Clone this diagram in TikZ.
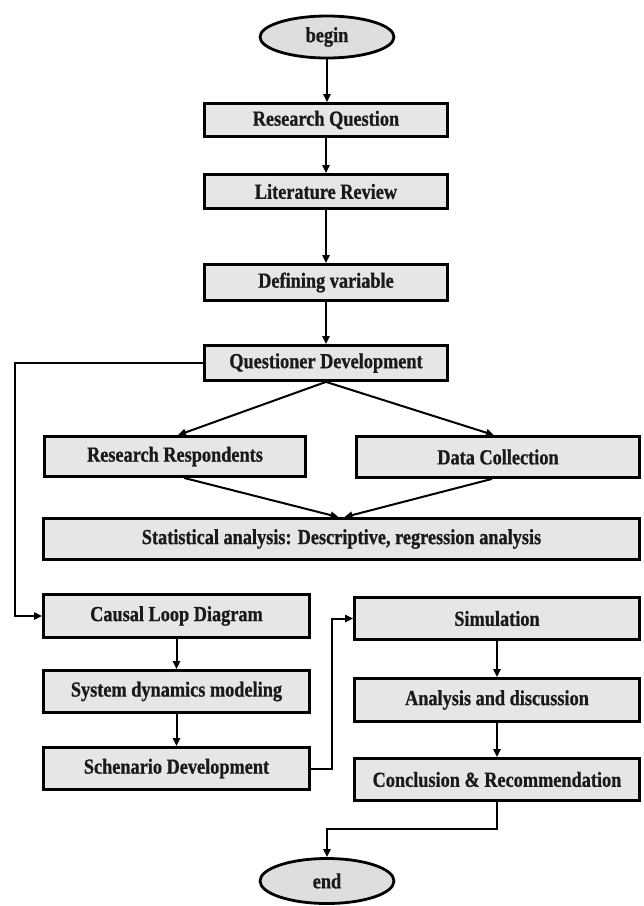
\documentclass[tikz,border=0pt]{standalone}
\usepackage{fontspec}
\setmainfont{Liberation Serif}[FakeStretch=0.85, BoldFeatures={FakeBold=0.8}]
\usetikzlibrary{arrows.meta,shapes.geometric,calc}
\definecolor{boxgray}{HTML}{E6E6E6}
\definecolor{termgray}{HTML}{DEDEDE}
\definecolor{inkc}{HTML}{1A1A1A}
\begin{document}
\begin{tikzpicture}[x=1pt,y=-1pt,
  box/.style={draw=black, line width=2.8pt, fill=boxgray, text=inkc, font=\bfseries\fontsize{21.5}{25}\selectfont, inner sep=0pt, anchor=center},
  term/.style={ellipse, draw=black, line width=2.8pt, fill=termgray, text=inkc, font=\bfseries\fontsize{21.5}{25}\selectfont, inner sep=0pt, anchor=center},
  conn/.style={line width=2pt, -{Triangle[length=8pt,width=7pt]}}]
\useasboundingbox[fill=white] (0,0) rectangle (644,906);

% top column
\node[term, minimum width=134pt, minimum height=42pt] (beg) at (327,37) {begin};
\node[box, minimum width=243pt, minimum height=33pt] (rq) at (326,120) {Research Question};
\node[box, minimum width=243pt, minimum height=34pt] (lr) at (326,191.5) {Literature Review};
\node[box, minimum width=243pt, minimum height=36pt] (dv) at (326,282.5) {Defining variable};
\node[box, minimum width=243pt, minimum height=35pt] (qd) at (326,363) {Questioner Development};

% middle
\node[box, minimum width=261pt, minimum height=40pt] (rr) at (175,456.5) {Research Respondents};
\node[box, minimum width=283pt, minimum height=41pt] (dc) at (498,457) {Data Collection};
\node[box, minimum width=596pt, minimum height=41pt] (st) at (341.5,539) {Statistical analysis: Descriptive, regression analysis};

% left column
\node[box, minimum width=266pt, minimum height=43pt] (cld) at (176.5,616) {Causal Loop Diagram};
\node[box, minimum width=266pt, minimum height=42pt] (sdm) at (176.5,691.5) {System dynamics modeling};
\node[box, minimum width=266pt, minimum height=42pt] (sd) at (176.5,768.5) {Schenario Development};

% right column
\node[box, minimum width=285pt, minimum height=42pt] (sim) at (497,618.5) {Simulation};
\node[box, minimum width=285pt, minimum height=43pt] (ad) at (497,700) {Analysis and discussion};
\node[box, minimum width=285pt, minimum height=42pt] (cr) at (497,779.5) {Conclusion \& Recommendation};

\node[term, minimum width=134pt, minimum height=45pt] (endn) at (327,881) {end};

% helper coordinates
\coordinate (lx) at (15,363);
\coordinate (sx) at (332,768.5);
\coordinate (ex) at (497,829);

% connectors
\draw[conn] (beg.south) -- (beg.south |- rq.north);
\draw[conn] (rq) -- (lr);
\draw[conn] (lr) -- (dv);
\draw[conn] (dv) -- (qd);
\draw[conn] (qd.south) -- ($(rr.north)+(3,0)$);
\draw[conn] (qd.south) -- ($(dc.north)+(-4,0)$);
\draw[conn] ($(rr.south)+(9,0)$) -- ($(st.north)+(-3,0)$);
\draw[conn] ($(dc.south)+(-6,0)$) -- ($(st.north)+(3,0)$);
\draw[conn] (qd.west) -- (lx) |- (cld.west);
\draw[conn] (cld) -- (sdm);
\draw[conn] (sdm) -- (sd);
\draw[conn] (sd.east) -- (sx) |- (sim.west);
\draw[conn] (sim) -- (ad);
\draw[conn] (ad) -- (cr);
\draw[conn] (cr.south) -- (ex) -| (endn.north);
\end{tikzpicture}
\end{document}
